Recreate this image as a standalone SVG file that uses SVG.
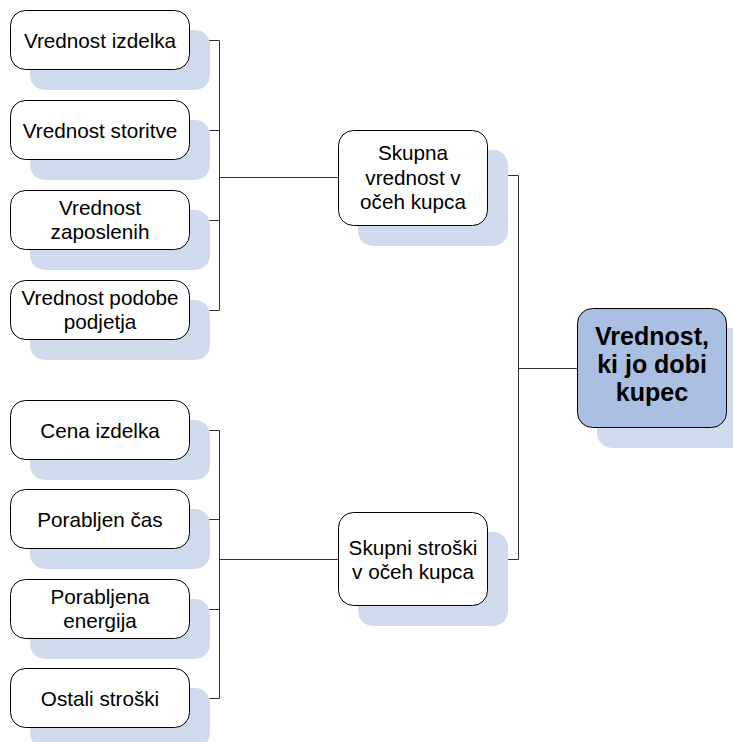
<svg xmlns="http://www.w3.org/2000/svg" width="733" height="742" viewBox="0 0 733 742">
  <style>
    .shadow { fill: #d0dbed; }
    .box { fill: #ffffff; stroke: #000000; stroke-width: 1; }
    .main { fill: #aabfe1; stroke: #000000; stroke-width: 1; }
    .lbl { font-family: "Liberation Sans", Arial, sans-serif; font-size: 20.7px; fill: #000000; text-anchor: middle; }
    .big { font-family: "Liberation Sans", Arial, sans-serif; font-size: 25px; font-weight: bold; fill: #000000; text-anchor: middle; }
    .conn { fill: none; stroke: #333333; stroke-width: 1; }
  </style>

  <!-- connectors -->
  <g id="connectors">
    <path class="conn" d="M189.5,40.5 H219.5 M189.5,130.5 H219.5 M189.5,220.5 H219.5 M189.5,310.5 H219.5 M219.5,40.5 V310.5 M219.5,177.5 H338"/>
    <path class="conn" d="M189.5,430.5 H219.5 M189.5,519.5 H219.5 M189.5,609.5 H219.5 M189.5,698.5 H219.5 M219.5,430.5 V698.5 M219.5,559.5 H338"/>
    <path class="conn" d="M487,175.5 H518.5 V559.5 H487 M518.5,368.5 H577"/>
  </g>

  <!-- value branch -->
  <g id="n-izdelek">
    <rect class="shadow" x="30" y="30" width="180" height="60" rx="15"/>
    <rect class="box" x="10.5" y="10.5" width="179" height="59" rx="15"/>
    <text class="lbl" x="100" y="47.5">Vrednost izdelka</text>
  </g>
  <g id="n-storitev">
    <rect class="shadow" x="30" y="120" width="180" height="60" rx="15"/>
    <rect class="box" x="10.5" y="100.5" width="179" height="59" rx="15"/>
    <text class="lbl" x="100" y="137.5">Vrednost storitve</text>
  </g>
  <g id="n-zaposleni">
    <rect class="shadow" x="30" y="210" width="180" height="60" rx="15"/>
    <rect class="box" x="10.5" y="190.5" width="179" height="59" rx="15"/>
    <text class="lbl" x="100" y="214.5">Vrednost</text>
    <text class="lbl" x="100" y="238.5">zaposlenih</text>
  </g>
  <g id="n-podoba">
    <rect class="shadow" x="30" y="300" width="180" height="60" rx="15"/>
    <rect class="box" x="10.5" y="280.5" width="179" height="59" rx="15"/>
    <text class="lbl" x="100" y="304.5">Vrednost podobe</text>
    <text class="lbl" x="100" y="328.5">podjetja</text>
  </g>

  <!-- cost branch -->
  <g id="n-cena">
    <rect class="shadow" x="30" y="420" width="180" height="60" rx="15"/>
    <rect class="box" x="10.5" y="400.5" width="179" height="59" rx="15"/>
    <text class="lbl" x="100" y="437.5">Cena izdelka</text>
  </g>
  <g id="n-cas">
    <rect class="shadow" x="30" y="509" width="180" height="60" rx="15"/>
    <rect class="box" x="10.5" y="489.5" width="179" height="59" rx="15"/>
    <text class="lbl" x="100" y="526.5">Porabljen čas</text>
  </g>
  <g id="n-energija">
    <rect class="shadow" x="30" y="599" width="180" height="60" rx="15"/>
    <rect class="box" x="10.5" y="579.5" width="179" height="59" rx="15"/>
    <text class="lbl" x="100" y="603.5">Porabljena</text>
    <text class="lbl" x="100" y="627.5">energija</text>
  </g>
  <g id="n-ostali">
    <rect class="shadow" x="30" y="688" width="180" height="60" rx="15"/>
    <rect class="box" x="10.5" y="668.5" width="179" height="59" rx="15"/>
    <text class="lbl" x="100" y="705.5">Ostali stroški</text>
  </g>

  <!-- totals -->
  <g id="n-skupna-vrednost">
    <rect class="shadow" x="358" y="150" width="150" height="96" rx="15"/>
    <rect class="box" x="338.5" y="130.5" width="149" height="95" rx="15"/>
    <text class="lbl" x="413" y="160">Skupna</text>
    <text class="lbl" x="413" y="185">vrednost v</text>
    <text class="lbl" x="413" y="209">očeh kupca</text>
  </g>
  <g id="n-skupni-stroski">
    <rect class="shadow" x="358" y="532" width="150" height="94" rx="15"/>
    <rect class="box" x="338.5" y="512.5" width="149" height="93" rx="15"/>
    <text class="lbl" x="413" y="555">Skupni stroški</text>
    <text class="lbl" x="413" y="579">v očeh kupca</text>
  </g>

  <!-- result -->
  <g id="n-vrednost-kupec">
    <rect class="shadow" x="597" y="328" width="150" height="120" rx="15"/>
    <rect class="main" x="577.5" y="308.5" width="149" height="119" rx="15"/>
    <text class="big" x="652" y="345">Vrednost,</text>
    <text class="big" x="652" y="373">ki jo dobi</text>
    <text class="big" x="652" y="401">kupec</text>
  </g>
</svg>
